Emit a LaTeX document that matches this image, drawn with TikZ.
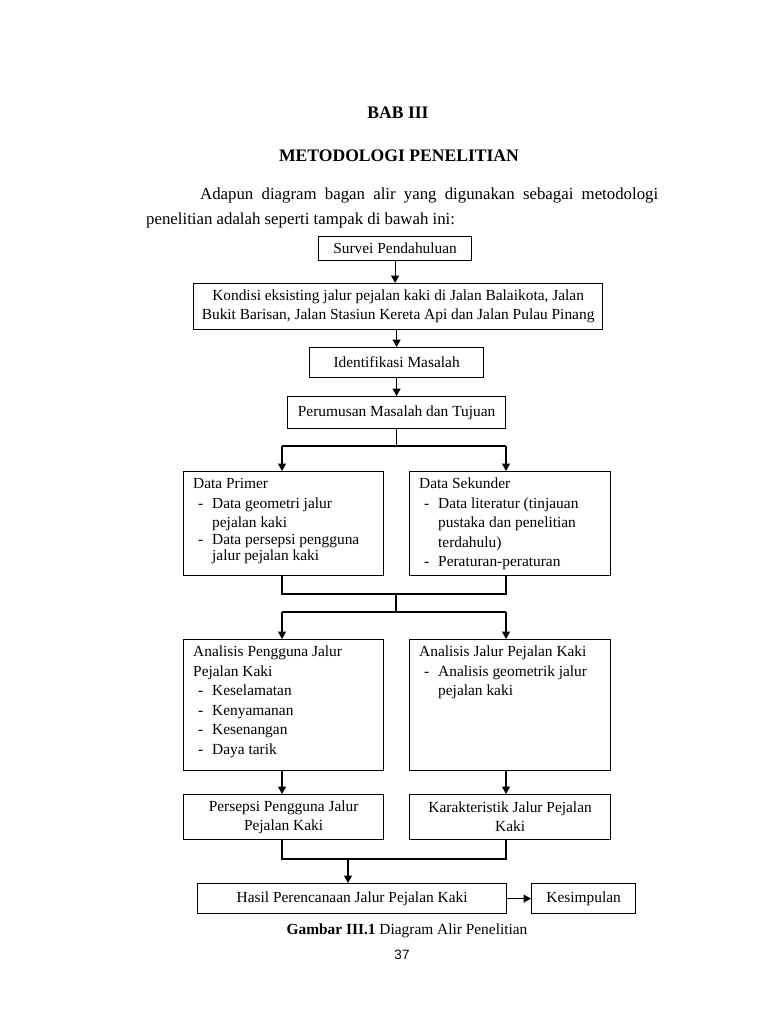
\documentclass[tikz,border=0pt]{standalone}
\usepackage{fontspec}
\setmainfont{Liberation Serif}
\newfontfamily\pagenumfont{Liberation Sans}
\usetikzlibrary{arrows.meta}
\begin{document}
\begin{tikzpicture}[x=1pt,y=-1pt,
  box/.style={draw, line width=1.2pt, inner sep=0pt, anchor=north west, align=center,
              font=\fontsize{15.4}{19}\selectfont},
  txt/.style={inner sep=0pt, anchor=base west,
              font=\fontsize{15.4}{19.5}\selectfont},
  arr/.style={-{Triangle[length=7.5pt,width=8pt]}, line width=1.2pt},
  ln/.style={line width=1.2pt},
  title/.style={inner sep=0pt, anchor=base, font=\fontsize{17.6}{20}\selectfont\bfseries},
  body/.style={inner sep=0pt, anchor=base west, font=\fontsize{16.8}{20}\selectfont}]
\newcommand\dsh{\makebox[19pt][l]{\hspace{5pt}-}}
\newcommand\ind{\hspace*{19pt}}
\newcommand\blines[1]{\vtop{\baselineskip=19.5pt\lineskiplimit=-20pt\lineskip=0pt #1}}
\useasboundingbox[fill=white] (0,0) rectangle (768,1024);

% headings and paragraph
\node[title] (bab) at (398,119) {BAB III};
\node[title] (metod) at (399,162) {METODOLOGI PENELITIAN};
\node[body] (par1) at (200,200) {\makebox[458pt][s]{Adapun diagram bagan alir yang digunakan sebagai metodologi}};
\node[body] (par2) at (146,225) {penelitian adalah seperti tampak di bawah ini:};

% boxes
\node[box, minimum width=153pt, minimum height=24pt] (survei) at (318,236) {Survei Pendahuluan};
\node[box, minimum width=409pt, minimum height=46pt] (kondisi) at (193,283)
  {Kondisi eksisting jalur pejalan kaki di Jalan Balaikota, Jalan\\Bukit Barisan, Jalan Stasiun Kereta Api dan Jalan Pulau Pinang};
\node[box, minimum width=174pt, minimum height=30pt] (ident) at (309,347) {Identifikasi Masalah};
\node[box, minimum width=218pt, minimum height=32pt] (rumus) at (287,396) {Perumusan Masalah dan Tujuan};

\node[box, minimum width=200pt, minimum height=104pt] (primer) at (183,471) {};
\node[box, minimum width=201pt, minimum height=104pt] (sekunder) at (409,471) {};
\node[txt] (primertxt) at (193,488.5) {\blines{\hbox{Data Primer}\hbox{\dsh Data geometri jalur}\hbox{\ind pejalan kaki}\vskip-3pt\hbox{\dsh Data persepsi pengguna}\vskip-3pt\hbox{\ind jalur pejalan kaki}}};
\node[txt] (sekundertxt) at (419,488.5) {\blines{\hbox{Data Sekunder}\hbox{\dsh Data literatur (tinjauan}\hbox{\ind pustaka dan penelitian}\hbox{\ind terdahulu)}\hbox{\dsh Peraturan-peraturan}}};

\node[box, minimum width=200pt, minimum height=131pt] (anpeng) at (183,639) {};
\node[box, minimum width=201pt, minimum height=131pt] (anjalur) at (409,639) {};
\node[txt] (anpengtxt) at (193,656.5) {\blines{\hbox{Analisis Pengguna Jalur}\hbox{Pejalan Kaki}\hbox{\dsh Keselamatan}\hbox{\dsh Kenyamanan}\hbox{\dsh Kesenangan}\hbox{\dsh Daya tarik}}};
\node[txt] (anjalurtxt) at (419,656.5) {\blines{\hbox{Analisis Jalur Pejalan Kaki}\hbox{\dsh Analisis geometrik jalur}\hbox{\ind pejalan kaki}}};

\node[box, minimum width=200pt, minimum height=45pt] (persepsi) at (183,794) {Persepsi Pengguna Jalur\\Pejalan Kaki};
\node[box, minimum width=201pt, minimum height=45pt] (karak) at (409,794) {Karakteristik Jalur Pejalan\\Kaki};

\node[box, minimum width=309pt, minimum height=30pt] (hasil) at (197,883) {Hasil Perencanaan Jalur Pejalan Kaki};
\node[box, minimum width=104pt, minimum height=30pt] (kesimp) at (531,883) {Kesimpulan};

% caption and page number
\node[inner sep=0pt, anchor=base, font=\fontsize{15.4}{18}\selectfont] (caption) at (407,934)
  {\textbf{Gambar III.1} Diagram Alir Penelitian};
\node[inner sep=0pt, anchor=base, font=\pagenumfont\fontsize{13.5}{15}\selectfont] (pnum) at (402,959) {37};

% connectors
\draw[arr] (survei.south) -- (survei.south |- kondisi.north);
\draw[arr] (ident.north |- kondisi.south) -- (ident.north);
\draw[arr] (ident.south) -- (rumus.north);

\coordinate (sL) at (282,446);
\coordinate (sR) at (506,446);
\draw[ln] (rumus.south) -- (rumus.south |- sL);
\draw[ln] (sL) -- (sR);
\draw[arr] (sL) -- (sL |- primer.north);
\draw[arr] (sR) -- (sR |- sekunder.north);

\coordinate (mL) at (282,594);
\coordinate (mR) at (506,594);
\coordinate (mC) at (396,594);
\draw[ln] (mL |- primer.south) -- (mL) -- (mR) -- (mR |- sekunder.south);
\coordinate (tL) at (282,612);
\coordinate (tR) at (506,612);
\draw[ln] (mC) -- (mC |- tL);
\draw[ln] (tL) -- (tR);
\draw[arr] (tL) -- (tL |- anpeng.north);
\draw[arr] (tR) -- (tR |- anjalur.north);

\draw[arr] (tL |- anpeng.south) -- (tL |- persepsi.north);
\draw[arr] (tR |- anjalur.south) -- (tR |- karak.north);

\coordinate (uL) at (282,859);
\coordinate (uR) at (506,859);
\coordinate (uC) at (348,859);
\draw[ln] (uL |- persepsi.south) -- (uL) -- (uR) -- (uR |- karak.south);
\draw[arr] (uC) -- (uC |- hasil.north);
\draw[arr] (hasil.east) -- (kesimp.west);
\end{tikzpicture}
\end{document}
